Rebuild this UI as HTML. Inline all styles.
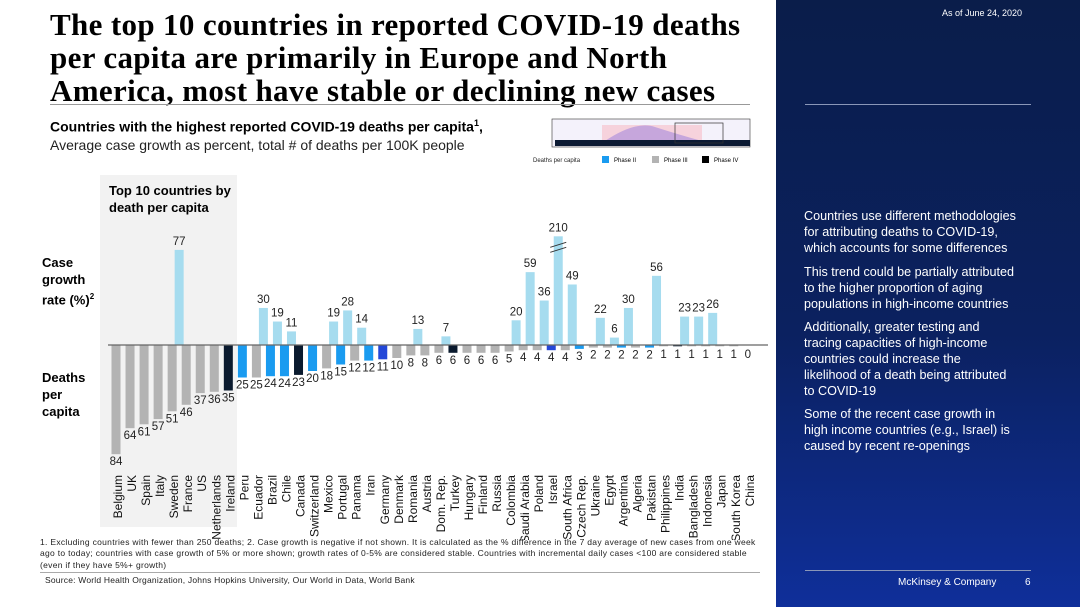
<!DOCTYPE html>
<html><head><meta charset="utf-8">
<style>
html,body{margin:0;padding:0;background:#fff;}
body{width:1080px;height:607px;position:relative;overflow:hidden;font-family:"Liberation Sans",sans-serif;}
.t{position:absolute;white-space:nowrap;}
#right{position:absolute;left:776px;top:0;width:304px;height:607px;background:linear-gradient(180deg,#0a1d4a 0%,#0b2160 55%,#0f2f9a 100%);}
.rt{position:absolute;left:28px;color:#fff;font-size:12.6px;line-height:16px;white-space:nowrap;}
</style></head>
<body>
<div class="t" style="left:50px;top:8px;font-family:'Liberation Serif',serif;font-weight:bold;font-size:31px;letter-spacing:0.35px;line-height:33px;color:#000;">The top 10 countries in reported COVID-19 deaths<br>per capita are primarily in Europe and North<br>America, most have stable or declining new cases</div>
<div style="position:absolute;left:50px;top:104px;width:700px;height:1px;background:#999;"></div>
<div class="t" style="left:50px;top:118px;font-size:14px;font-weight:bold;">Countries with the highest reported COVID-19 deaths per capita<sup style="font-size:9px">1</sup>,</div>
<div class="t" style="left:50px;top:137px;font-size:14px;color:#222;">Average case growth as percent, total # of deaths per 100K people</div>

<svg style="position:absolute;left:530px;top:115px" width="230" height="55">
<rect x="22" y="4" width="198" height="28" fill="#f4f2fb" stroke="#333" stroke-width="0.6"/>
<rect x="72" y="10" width="100" height="18" fill="#f6d2dc"/>
<path d="M72 28 Q105 5 125 12 Q150 20 172 26 L172 28 Z" fill="#c6a6dc"/>
<rect x="25" y="25" width="195" height="6" fill="#0b1a33"/>
<rect x="145" y="8" width="48" height="20" fill="none" stroke="#333" stroke-width="0.7"/>
<text x="3" y="47" font-size="6" fill="#222">Deaths per capita</text>
<rect x="72" y="41" width="7" height="7" fill="#1a9bf0"/><text x="84" y="47" font-size="6">Phase II</text>
<rect x="122" y="41" width="7" height="7" fill="#b3b3b3"/><text x="134" y="47" font-size="6">Phase III</text>
<rect x="172" y="41" width="7" height="7" fill="#000"/><text x="184" y="47" font-size="6">Phase IV</text>
</svg>

<div style="position:absolute;left:100px;top:175px;width:137px;height:352px;background:#f2f2f2;"></div>
<div class="t" style="left:109px;top:182px;font-size:13px;font-weight:bold;line-height:17px;">Top 10 countries by<br>death per capita</div>
<div class="t" style="left:42px;top:254px;font-size:13px;font-weight:bold;line-height:17px;">Case<br>growth<br>rate (%)<sup style="font-size:8px">2</sup></div>
<div class="t" style="left:42px;top:369px;font-size:13px;font-weight:bold;line-height:17px;">Deaths<br>per<br>capita</div>

<svg id="chart" style="position:absolute;left:0;top:0" width="776" height="540"></svg>

<div class="t" style="left:40px;top:537px;font-size:8.5px;letter-spacing:0.3px;line-height:11.3px;color:#222;">1. Excluding countries with fewer than 250 deaths; 2. Case growth is negative if not shown. It is calculated as the % difference in the 7 day average of new cases from one week<br>ago to today; countries with case growth of 5% or more shown; growth rates of 0-5% are considered stable. Countries with incremental daily cases &lt;100 are considered stable<br>(even if they have 5%+ growth)</div>
<div style="position:absolute;left:40px;top:572px;width:720px;height:1px;background:#aaa;"></div>
<div class="t" style="left:45px;top:575px;font-size:8.5px;letter-spacing:0.2px;color:#222;">Source: World Health Organization, Johns Hopkins University, Our World in Data, World Bank</div>

<div id="right">
<div class="t" style="left:166px;top:8px;font-size:9px;color:#fff;">As of June 24, 2020</div>
<div style="position:absolute;left:29px;top:104px;width:226px;height:1px;background:#8a97b8;"></div>
<div class="rt" style="top:208px;">Countries use different methodologies<br>for attributing deaths to COVID-19,<br>which accounts for some differences</div>
<div class="rt" style="top:264px;">This trend could be partially attributed<br>to the higher proportion of aging<br>populations in high-income countries</div>
<div class="rt" style="top:319px;">Additionally, greater testing and<br>tracing capacities of high-income<br>countries could increase the<br>likelihood of a death being attributed<br>to COVID-19</div>
<div class="rt" style="top:406px;">Some of the recent case growth in<br>high income countries (e.g., Israel) is<br>caused by recent re-openings</div>
<div style="position:absolute;left:29px;top:570px;width:226px;height:1px;background:#8a97b8;"></div>
<div class="t" style="left:122px;top:577px;font-size:10px;color:#fff;">McKinsey &amp; Company</div>
<div class="t" style="left:249px;top:577px;font-size:10px;color:#fff;">6</div>
</div>

<script>
const countries=["Belgium","UK","Spain","Italy","Sweden","France","US","Netherlands","Ireland","Peru","Ecuador","Brazil","Chile","Canada","Switzerland","Mexico","Portugal","Panama","Iran","Germany","Denmark","Romania","Austria","Dom. Rep.","Turkey","Hungary","Finland","Russia","Colombia","Saudi Arabia","Poland","Israel","South Africa","Czech Rep.","Ukraine","Egypt","Argentina","Algeria","Pakistan","Philippines","India","Bangladesh","Indonesia","Japan","South Korea","China"];
const deaths=[84,64,61,57,51,46,37,36,35,25,25,24,24,23,20,18,15,12,12,11,10,8,8,6,6,6,6,6,5,4,4,4,4,3,2,2,2,2,2,1,1,1,1,1,1,0];
const growth=[null,null,null,null,77,null,null,null,null,null,30,19,11,null,null,19,28,14,null,null,null,13,null,7,null,null,null,null,20,59,36,210,49,null,22,6,30,null,56,null,23,23,26,null,null,null];
const phase=["g","g","g","g","g","g","g","g","n","b","g","b","b","n","b","g","b","g","b","r","g","g","g","g","n","g","g","g","g","g","g","r","g","b","g","g","b","g","b","g","n","g","g","g","g","g"];
const growthCap=88;
const stableGrowth=5;

const svg=document.getElementById('chart');
const NS='http://www.w3.org/2000/svg';
const x0=116, step=14.04, base=345, bw=9;
const xPos=i=>x0+i*step;
const yGrowth=v=>base-Math.min(v,growthCap)*1.235;
const yDeath=v=>base+v*1.3;
const col={g:"#b3b3b3",b:"#1a9bf0",n:"#0a1a2e",r:"#2347d8"};
function mk(tag,attrs){const e=document.createElementNS(NS,tag);for(const k in attrs)e.setAttribute(k,attrs[k]);svg.appendChild(e);return e;}

countries.forEach((c,i)=>{
  const x=xPos(i);
  const d=deaths[i];
  const r=mk('rect',{x:x-bw/2,y:base,width:bw,height:Math.max(d*1.3,0),fill:col[phase[i]]});
  
  
  const yl=Math.max(yDeath(d)+11,358);
  const t=mk('text',{x:x,y:yl,'font-size':11.5,'text-anchor':'middle',fill:'#222'});
  t.textContent=d;
  
  
  const g=growth[i];
  if(g!==null){
    const gx=x+7;
    const top=yGrowth(g);
    const gr=mk('rect',{x:gx-bw/2,y:top,width:bw,height:base-top,fill:g>stableGrowth?"#a6dcef":"#b3b3b3"});
    
    
    const gt=mk('text',{x:gx,y:top-5,'font-size':11.5,'text-anchor':'middle',fill:'#222'});
    gt.textContent=g;
    
    
    if(g>growthCap){
      [0,5].forEach(o=>{const l=mk('line',{x1:gx-8,y1:top+11+o,x2:gx+8,y2:top+6+o,stroke:'#333','stroke-width':1});
      
      });
    }
  }
  const lb=mk('text',{x:0,y:0,'font-size':12,'text-anchor':'end',fill:'#111',transform:`translate(${x+6},475) rotate(-90)`});
  lb.textContent=c;
  
  
});
const ax=mk('line',{x1:108,y1:base,x2:768,y2:base,stroke:'#666','stroke-width':1.2});


</script>
</body></html>
